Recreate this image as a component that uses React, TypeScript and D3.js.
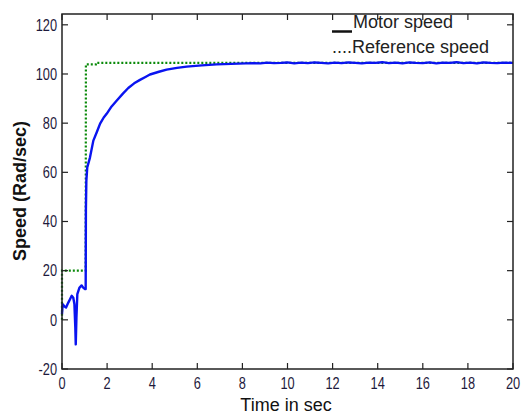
import React from "react";
import * as d3 from "d3";

const motorTime = [0, 0.03, 0.1, 0.18, 0.28, 0.36, 0.43, 0.5, 0.55, 0.59, 0.61, 0.64, 0.68, 0.77, 0.87, 0.95, 1.02, 1.05, 1.06, 1.08, 1.12, 1.24, 1.39, 1.55, 1.69, 1.85, 1.98, 2.2, 2.43, 2.7, 2.94, 3.2, 3.46, 3.7, 3.9, 4.3, 4.64, 5.1, 5.53, 6.2, 6.86, 7.5, 8.48, 8.8, 9.1, 9.4, 9.7, 10.0, 10.3, 10.6, 10.9, 11.2, 11.5, 11.8, 12.1, 12.4, 12.7, 13.0, 13.3, 13.6, 13.9, 14.2, 14.5, 14.8, 15.1, 15.4, 15.7, 16.0, 16.3, 16.6, 16.9, 17.2, 17.5, 17.8, 18.1, 18.4, 18.7, 19.0, 19.3, 19.6, 20.0];
const motorSpeed = [2.3, 6.4, 5.5, 5, 7, 8.5, 9.8, 9, 6.4, -3, -10, 1, 10.5, 13, 14, 13, 12.5, 12.5, 45, 56.6, 62, 66, 72.9, 76.5, 79.8, 82.3, 83.8, 86.8, 89.2, 92, 94.3, 96.2, 97.6, 98.8, 99.8, 100.9, 101.8, 102.5, 103, 103.5, 103.9, 104.1, 104.4, 104.3, 104.6, 104.4, 104.5, 104.7, 104.3, 104.6, 104.4, 104.7, 104.5, 104.3, 104.6, 104.4, 104.7, 104.5, 104.3, 104.6, 104.5, 104.8, 104.4, 104.6, 104.3, 104.7, 104.5, 104.4, 104.7, 104.3, 104.6, 104.5, 104.8, 104.4, 104.6, 104.3, 104.7, 104.5, 104.4, 104.6, 104.5];
const refTime = [0, 0, 1.05, 1.06, 1.5, 1.5, 20];
const refSpeed = [0, 20, 20, 103.9, 103.9, 104.5, 104.5];
const xTicks = [0, 2, 4, 6, 8, 10, 12, 14, 16, 18, 20];
const yTicks = [-20, 0, 20, 40, 60, 80, 100, 120];
const legendLabels = ["Motor speed", "....Reference speed"];

export default function App() {
  const W = 521, H = 416;
  const left = 62, right = 513, top = 14, bottom = 369;
  const x = d3.scaleLinear().domain([0, 20]).range([left, right]);
  const y = d3.scaleLinear().domain([-20, 124.4]).range([bottom, top]);
  const line = d3.line<[number, number]>().x(d => x(d[0])).y(d => y(d[1]));
  const motor = motorTime.map((t, i) => [t, motorSpeed[i]] as [number, number]);
  const ref = refTime.map((t, i) => [t, refSpeed[i]] as [number, number]);
  const font = "'Liberation Sans', Arial, sans-serif";
  const tickColor = "#1e1a3c";
  const tl = 6;
  const sx = 0.8;
  return (
    <svg width={W} height={H} style={{ position: "absolute", left: 0, top: 0, background: "#fff" }}>
      <rect x={0} y={0} width={W} height={H} fill="#fff" />
      <path d={line(ref) || ""} fill="none" stroke="#0a8a0a" strokeWidth={2.2} strokeDasharray="2,2" />
      <path d={line(motor) || ""} fill="none" stroke="#0a14f0" strokeWidth={2.4} strokeLinejoin="round" />
      <rect x={left} y={top} width={right - left} height={bottom - top} fill="none" stroke="#222" strokeWidth={1.5} />
      {xTicks.map(t => (
        <g key={"x" + t}>
          <line x1={x(t)} x2={x(t)} y1={bottom} y2={bottom - tl} stroke="#222" strokeWidth={1.2} />
          <line x1={x(t)} x2={x(t)} y1={top} y2={top + tl} stroke="#222" strokeWidth={1.2} />
          <text transform={`translate(${x(t)},${bottom + 20}) scale(${sx},1)`} textAnchor="middle" fontFamily={font} fontSize={16} fill={tickColor}>{t}</text>
        </g>
      ))}
      {yTicks.map(v => (
        <g key={"y" + v}>
          <line x1={left} x2={left + tl} y1={y(v)} y2={y(v)} stroke="#222" strokeWidth={1.2} />
          <line x1={right} x2={right - tl} y1={y(v)} y2={y(v)} stroke="#222" strokeWidth={1.2} />
          <text transform={`translate(${left - 5},${y(v) + 5.8}) scale(${sx},1)`} textAnchor="end" fontFamily={font} fontSize={16} fill={tickColor}>{v}</text>
        </g>
      ))}
      <line x1={332} x2={352} y1={31.5} y2={31.5} stroke="#111" strokeWidth={2.5} />
      <text x={353} y={28} fontFamily={font} fontSize={18} fill="#222">{legendLabels[0]}</text>
      <text x={332} y={52.5} fontFamily={font} fontSize={18} fill="#222">{legendLabels[1]}</text>
      <text x={286} y={411} textAnchor="middle" fontFamily={font} fontSize={18} fill="#111">Time in sec</text>
      <text transform={`translate(26,${191}) rotate(-90)`} textAnchor="middle" fontFamily={font} fontSize={18} fontWeight="bold" fill="#111">Speed (Rad/sec)</text>
    </svg>
  );
}
